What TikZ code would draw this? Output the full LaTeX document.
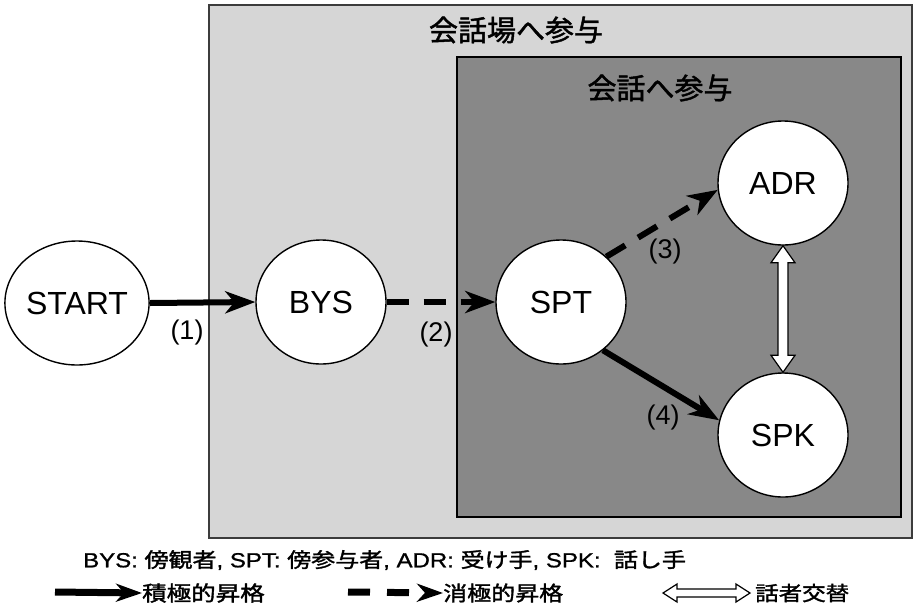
\documentclass[tikz,border=0pt]{standalone}
\usepackage{fontspec}
\setmainfont{Liberation Sans}
\newfontfamily\jp{Noto Sans CJK JP}
\newfontfamily\jpb[FakeBold=1.5]{Noto Sans CJK JP}
\newfontfamily\latb[FakeBold=1]{Liberation Sans}
\usetikzlibrary{arrows.meta,calc,shapes.geometric}
\definecolor{outerfill}{RGB}{214,214,214}
\definecolor{innerfill}{RGB}{136,136,136}
\definecolor{outerline}{RGB}{60,60,60}
\begin{document}
\begin{tikzpicture}[x=1pt,y=-1pt,
  state/.style={ellipse,draw=black,line width=1.4pt,fill=white,minimum width=130pt,minimum height=124pt,inner sep=0pt,font=\fontsize{32}{36}\selectfont},
  flow/.style={line width=6pt,-{Stealth[length=30pt,width=22pt,inset=9pt]}},
  dflow/.style={flow,dash pattern=on 22pt off 15pt},
  lflow/.style={line width=7pt,-{Stealth[length=26pt,width=18pt,inset=8pt]}},
  ldflow/.style={lflow,dash pattern=on 22pt off 17pt},
  swap/.style={draw=black,line width=1.2pt,fill=white,line join=miter},
  lab/.style={font=\fontsize{27}{30}\selectfont},
  ttl/.style={font=\jpb\fontsize{29}{32}\selectfont},
  leg/.style={anchor=west,inner sep=0pt}
]
\useasboundingbox (0,0) rectangle (915,606);
\fill[white] (0,0) rectangle (915,606);
% boxes
\draw[fill=outerfill,draw=outerline,line width=2.5pt] (209,5) rectangle (912,538);
\draw[fill=innerfill,draw=black,line width=1.5pt] (457,57) rectangle (901,517);
\node[ttl] (t1) at (516,30) {会話場へ参与};
\node[ttl] (t2) at (660,88) {会話へ参与};
% states
\node[state] (START) at (77,303) {START};
\node[state] (BYS) at (321,302) {BYS};
\node[state] (SPT) at (561,302) {SPT};
\node[state] (ADR) at (783,183) {ADR};
\node[state] (SPK) at (783,435) {SPK};
% connectors
\draw[flow] (START.east) -- (BYS.west);
\draw[dflow] (BYS.east) -- (SPT.west);
\draw[dflow] (SPT.45) -- (ADR.186);
\draw[flow] (SPT.-49) -- (SPK.167);
\draw[swap] (ADR.south) -- ++(12,17) -- ++(-7,0) -- ($(SPK.north)+(5,-17)$) -- ++(7,0) -- (SPK.north) -- ++(-12,-17) -- ++(7,0) -- ($(ADR.south)+(-5,17)$) -- ++(-7,0) -- cycle;
% labels
\node[lab] (l1) at (187,333) {(1)};
\node[lab] (l2) at (436,335) {(2)};
\node[lab] (l3) at (665,252) {(3)};
\node[lab] (l4) at (663,418) {(4)};
% legend
\node[leg] (key) at (83,560) {\scalebox{1}[0.85]{\latb\fontsize{24}{26}\selectfont BYS: {\jpb 傍観者}, SPT: {\jpb 傍参与者}, ADR: {\jpb 受け手}, SPK:\ \ {\jpb 話し手}}};
\node[leg] (k1) at (142,593) {\scalebox{1}[0.85]{\jpb\fontsize{24.5}{26}\selectfont 積極的昇格}};
\node[leg] (k2) at (443,593) {\scalebox{1}[0.85]{\jpb\fontsize{24}{26}\selectfont 消極的昇格}};
\node[leg] (k3) at (755,593) {\scalebox{1}[0.85]{\jpb\fontsize{23.5}{26}\selectfont 話者交替}};
\coordinate (a1) at (55,592);
\coordinate (a2) at (348,592);
\coordinate (d1) at (663,593);
\coordinate (d2) at (750,593);
\draw[lflow] (a1) -- (k1.west);
\draw[ldflow] (a2) -- (k2.west);
\draw[swap] (d1) -- ++(14,-9) -- ++(0,5) -- ($(d2)+(-14,-4)$) -- ++(0,-5) -- (d2) -- ++(-14,9) -- ++(0,-5) -- ($(d1)+(14,4)$) -- ++(0,5) -- cycle;
\end{tikzpicture}
\end{document}
